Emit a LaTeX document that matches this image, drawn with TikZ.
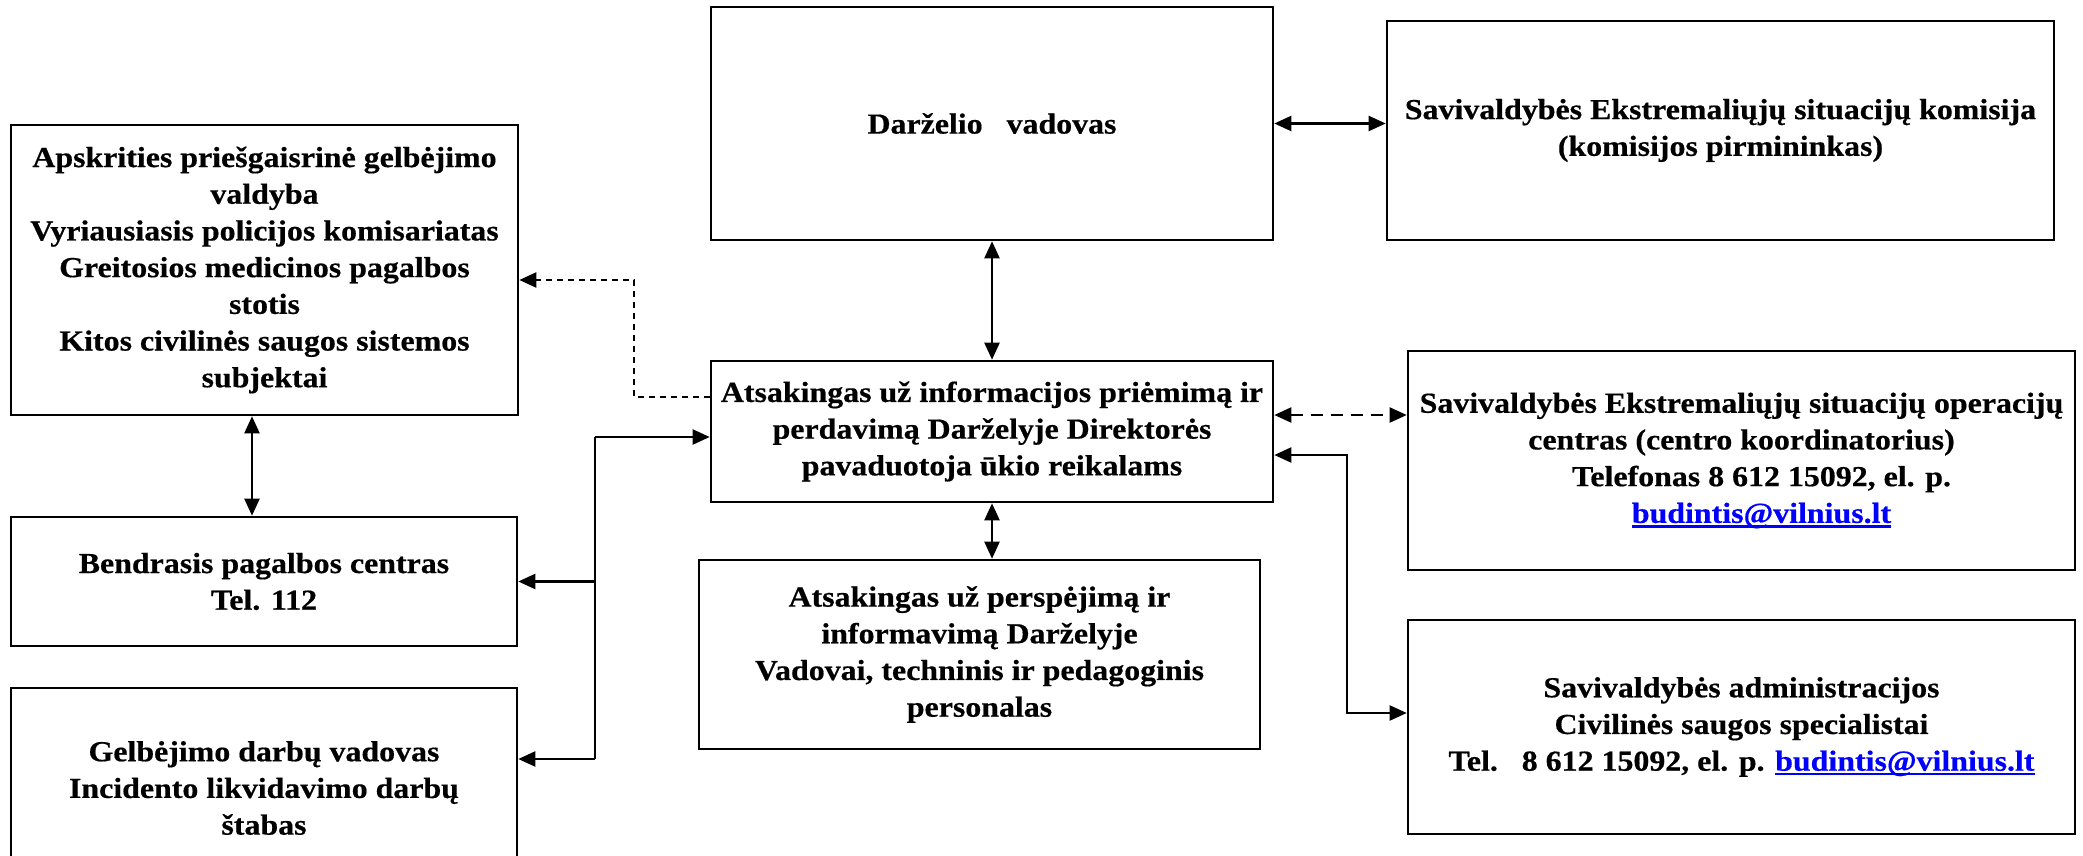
\documentclass[tikz,border=0pt]{standalone}
\usepackage{fontspec}
\setmainfont{Liberation Serif}[FakeStretch=1.1, BoldFeatures={FakeBold=0.5}]
\usetikzlibrary{arrows.meta}
\newcommand\mylink[1]{{\color{blue}\setbox0=\hbox{#1}\rlap{\rule[-2.4pt]{\wd0}{1.3pt}}\box0}}
\tikzset{
  box/.style={draw, line width=1.3pt, inner sep=0pt, align=center,
    font=\bfseries\fontsize{14.5pt}{18.35pt}\selectfont},
  tip/.tip={Triangle[length=8.5pt,width=7.5pt]},
  arr/.style={line width=1.1pt, -tip},
  dbl/.style={line width=1.1pt, tip-tip},
  dashsmall/.style={dash pattern=on 3pt off 2.5pt},
  dashbig/.style={dash pattern=on 6pt off 4pt},
}
\begin{document}
\begin{tikzpicture}[x=0.5pt,y=-0.5pt]
\clip (0,0) rectangle (2083,856);
\fill[white] (0,0) rectangle (2083,856);

\node[box, minimum width=253.5pt, minimum height=145pt] (A) at (264.5,270)
  {Apskrities priešgaisrinė gelbėjimo\\valdyba\\Vyriausiasis policijos komisariatas\\Greitosios medicinos pagalbos\\stotis\\Kitos civilinės saugos sistemos\\subjektai};
\node[box, minimum width=253pt, minimum height=64.5pt] (B) at (264,581.5)
  {Bendrasis pagalbos centras\\Tel. 112};
\node[box, minimum width=253pt, minimum height=100pt] (C) at (264,788)
  {Gelbėjimo darbų vadovas\\Incidento likvidavimo darbų\\štabas};
\node[box, minimum width=281pt, minimum height=116.5pt] (D) at (992,123.5)
  {Darželio\ \ \ vadovas};
\node[box, minimum width=281pt, minimum height=70.5pt] (E) at (992,431.5)
  {Atsakingas už informacijos priėmimą ir\\perdavimą Darželyje Direktorės\\pavaduotoja ūkio reikalams};
\node[box, minimum width=280.5pt, minimum height=94.5pt] (F) at (979.5,654.5)
  {Atsakingas už perspėjimą ir\\informavimą Darželyje\\Vadovai, techninis ir pedagoginis\\personalas};
\node[box, minimum width=333.5pt, minimum height=109.5pt] (G) at (1720.5,130.5)
  {Savivaldybės Ekstremaliųjų situacijų komisija\\(komisijos pirmininkas)};
\node[box, minimum width=333.5pt, minimum height=109.5pt] (H) at (1741.5,460.5)
  {Savivaldybės Ekstremaliųjų situacijų operacijų\\centras (centro koordinatorius)\\\hspace*{20pt}Telefonas 8 612 15092, el. p.\\\hspace*{20pt}\mylink{budintis@vilnius.lt}};
\node[box, minimum width=333.5pt, minimum height=107pt] (I) at (1741.5,727)
  {Savivaldybės administracijos\\Civilinės saugos specialistai\\Tel.\ \ \ 8 612 15092, el. p. \mylink{budintis@vilnius.lt}};

% connectors
\coordinate (xab) at (252,0);
\draw[dbl] (A.south -| xab) -- (B.north -| xab);
\draw[dbl] (D.south) -- (E.north);
\draw[dbl] (E.south) -- (F.north -| E.south);
\draw[dbl] (D.east) -- (G.west |- D.east);
\coordinate (yEH) at (0,415);
\draw[dbl, dashbig] (E.east |- yEH) -- (H.west |- yEH);
\coordinate (p1) at (1347,455);
\coordinate (p2) at (1347,713);
\draw[dbl] (E.east |- p1) -- (p1) -- (p2) -- (I.west |- p2);

\coordinate (q1) at (595,437);
\coordinate (q2) at (595,759);
\draw[arr] (q1) -- (E.west |- q1);
\draw[line width=1.1pt] (q1) -- (q2);
\draw[arr] (q1 |- B.east) -- (B.east);
\draw[arr] (q2) -- (C.east |- q2);

\coordinate (r1) at (634,397);
\coordinate (r2) at (634,280);
\draw[arr, dashsmall] (E.west |- r1) -- (r1) -- (r2) -- (A.east |- r2);
\end{tikzpicture}
\end{document}
